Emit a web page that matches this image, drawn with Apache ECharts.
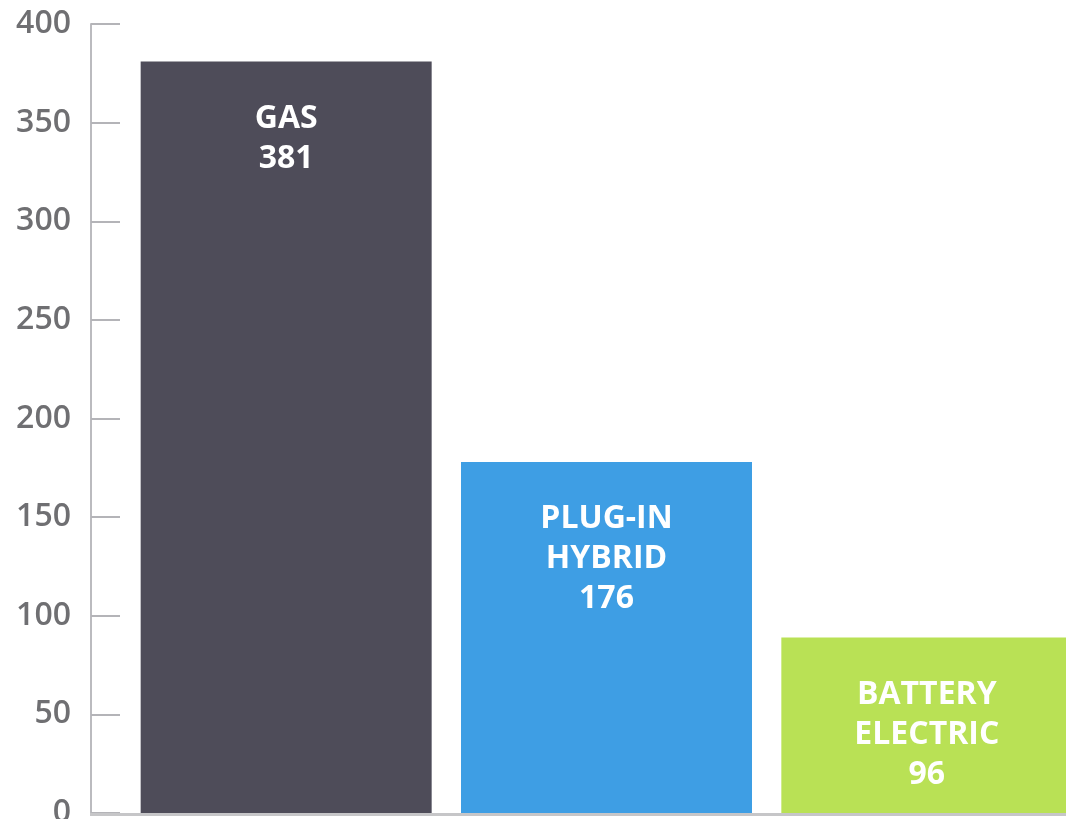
<!DOCTYPE html>
<html>
<head>
<meta charset="utf-8">
<script src="https://cdn.jsdelivr.net/npm/echarts@6/dist/echarts.min.js"></script>
<style>
html,body{margin:0;padding:0;background:#fff;}
#chart{width:1066px;height:819px;}
</style>
</head>
<body>
<div id="chart"></div>
<script>
// Data
const categories = ['GAS', 'PLUG-IN\nHYBRID', 'BATTERY\nELECTRIC'];
// bar heights as drawn against the axis
const barValues = [381, 178, 89];
// numbers printed inside the bars
const printedValues = [381, 176, 96];
const barColors = ['#4e4c59', '#3e9ee4', '#b9e155'];
const yTicks = [0, 50, 100, 150, 200, 250, 300, 350, 400];

const GRID_LEFT = 126, AXIS_OFFSET = 35;

const chart = echarts.init(document.getElementById('chart'), null, {renderer: 'canvas'});
const option = {
  animation: false,
  backgroundColor: '#ffffff',
  grid: {left: GRID_LEFT, right: -21, top: 24, bottom: 6, containLabel: false, outerBoundsMode: 'none'},
  xAxis: {
    type: 'category',
    data: categories,
    boundaryGap: true,
    axisLine: {show: false},
    axisTick: {show: false},
    axisLabel: {show: false}
  },
  yAxis: {
    type: 'value',
    min: yTicks[0],
    max: yTicks[yTicks.length - 1],
    interval: yTicks[1] - yTicks[0],
    offset: AXIS_OFFSET,
    axisLine: {show: true, lineStyle: {color: '#bbbbbf', width: 2}},
    axisTick: {show: true, inside: true, length: 29, lineStyle: {color: '#b4b4b8', width: 2}},
    axisLabel: {
      margin: 20,
      color: '#6f6f72',
      fontSize: 32,
      fontWeight: 600,
      fontFamily: 'Open Sans'
    },
    splitLine: {show: false}
  },
  series: [{
    type: 'bar',
    barWidth: 291,
    data: barValues.map((v, i) => ({
      value: v,
      itemStyle: {color: barColors[i]},
      label: {formatter: categories[i] + '\n' + printedValues[i]}
    })),
    label: {
      show: true,
      position: 'insideTop',
      distance: 37,
      color: '#ffffff',
      fontFamily: 'Open Sans',
      fontWeight: 'bold',
      fontSize: 32,
      lineHeight: 40,
      align: 'center'
    }
  }]
};
chart.setOption(option);

// baseline across the bottom, from the y axis to the right edge
const y0 = chart.convertToPixel({yAxisIndex: 0}, 0);
chart.setOption({
  graphic: [{
    type: 'line',
    z: 100,
    shape: {x1: GRID_LEFT - AXIS_OFFSET - 1, y1: y0 + 1.5, x2: 1066, y2: y0 + 1.5},
    style: {stroke: '#c6c6c8', lineWidth: 3}
  }]
});
</script>
</body>
</html>
